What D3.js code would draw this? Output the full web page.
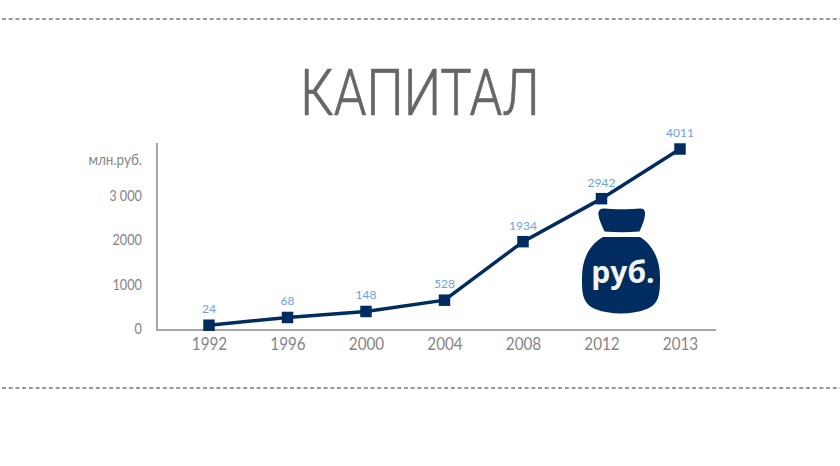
<!DOCTYPE html>
<html>
<head>
<meta charset="utf-8">
<script src="https://cdn.jsdelivr.net/npm/d3@7"></script>
<style>
    html, body { margin: 0; padding: 0; background: #fff; }
    svg { display: block; }
    text { font-family: "Lato", sans-serif; }
    .axis text { fill: #858585; }
    .axis path { stroke: #a6a6a6; stroke-width: 2px; }
</style>
</head>
<body>
<svg width="840" height="466"></svg>
<script>
var years = ['1992', '1996', '2000', '2004', '2008', '2012', '2013'];
// the labels in the picture do not sit at their true height, so both are kept
var plotted = [85, 260, 395, 650, 1970, 2940, 4060];
var labels = ['24', '68', '148', '528', '1934', '2942', '4011'];
var yTicks = [0, 1000, 2000, 3000];
var yTickLabels = ['0', '1000', '2000', '3 000'];

var svg = d3.select('svg');

var xScale = d3.scalePoint()
    .domain(years)
    .range([209, 680]);

var yScale = d3.scaleLinear()
    .domain([0, 4060])
    .range([329, 149]);

// dashed rules
svg.selectAll('.rule')
    .data([19, 388])
    .enter()
    .append('line')
    .attr('class', 'rule')
    .attr('x1', 2)
    .attr('x2', 840)
    .attr('y1', function(d){return d;})
    .attr('y2', function(d){return d;})
    .attr('stroke', '#333')
    .attr('stroke-dasharray', '4 2.7');

// title
svg.append('text')
    .attr('transform', 'translate(420,115) scale(0.82,1)')
    .attr('text-anchor', 'middle')
    .attr('fill', '#666')
    .attr('stroke', '#666')
    .attr('stroke-width', 0.7)
    .style('font-family', 'Roboto')
    .style('font-weight', 300)
    .style('font-size', '64px')
    .text('КАПИТАЛ');

// axes
var xAxis = d3.axisBottom(xScale).tickSize(0).tickPadding(8);
var yAxis = d3.axisLeft(yScale)
    .tickValues(yTicks)
    .tickSize(0)
    .tickPadding(15)
    .tickFormat(function(d, i){return yTickLabels[i];});

// the tick font of the picture is narrower than Lato, so squeeze it
svg.append('g')
    .attr('class', 'axis x')
    .attr('transform', 'translate(0,330)')
    .call(xAxis)
    .call(function(g){
        g.select('.domain').attr('d', 'M156,0H716');
        g.selectAll('text')
            .style('font-size', '17.5px')
            .attr('transform', 'scale(0.87,1)');
    });

svg.append('g')
    .attr('class', 'axis y')
    .attr('transform', 'translate(157,0)')
    .call(yAxis)
    .call(function(g){
        g.select('.domain').attr('d', 'M0,143V330');
        g.selectAll('text')
            .style('font-size', '14.5px')
            .attr('x', -15 / 0.88)
            .attr('transform', 'scale(0.88,1)');
    });

svg.append('text')
    .attr('transform', 'translate(142,165) scale(0.93,1)')
    .attr('text-anchor', 'end')
    .attr('fill', '#858585')
    .style('font-size', '14.5px')
    .text('млн.руб.');

// line and markers
var line = d3.line()
    .x(function(d, i){return xScale(years[i]);})
    .y(function(d){return yScale(d);});

svg.append('path')
    .datum(plotted)
    .attr('d', line)
    .attr('fill', 'none')
    .attr('stroke', '#002c60')
    .attr('stroke-width', 3.5);

svg.selectAll('.marker')
    .data(plotted)
    .enter()
    .append('path')
    .attr('class', 'marker')
    .attr('d', d3.symbol().type(d3.symbolSquare).size(132))
    .attr('fill', '#002c60')
    .attr('transform', function(d, i){
        return 'translate(' + xScale(years[i]) + ',' + yScale(d) + ')';
    });

svg.selectAll('.value')
    .data(plotted)
    .enter()
    .append('text')
    .attr('class', 'value')
    .attr('x', function(d, i){return xScale(years[i]);})
    .attr('y', function(d){return yScale(d) - 12;})
    .attr('text-anchor', 'middle')
    .attr('fill', '#6ba3e0')
    .style('font-size', '12px')
    .text(function(d, i){return labels[i];});

// money bag
var bag = svg.append('g').attr('fill', '#002c60');

bag.append('path')
    .attr('d', 'M604,208.5 C612,209.5 632,209.5 640,208.5 C644,208 645.5,211 645,215 C644.5,220 642,226 639.5,231.5 C628,232.5 616,232.5 604.5,231.5 C602,226 599,220 598.5,215 C598,211 600,208 604,208.5 Z');

bag.append('path')
    .attr('d', 'M603,237 L640,237 C650,243 660,256 660,277 C660,286 660,292 658,298 C655,306 648,310 636,312 C626,314 616,314 606,312 C594,310 587,306 584,298 C582,292 582,286 582,277 C582,256 592,243 603,237 Z');

svg.append('text')
    .attr('x', 623)
    .attr('y', 283)
    .attr('text-anchor', 'middle')
    .attr('fill', '#f5f5f5')
    .style('font-family', 'Open Sans')
    .style('font-weight', 700)
    .style('font-size', '30px')
    .text('руб.');
</script>
</body>
</html>
